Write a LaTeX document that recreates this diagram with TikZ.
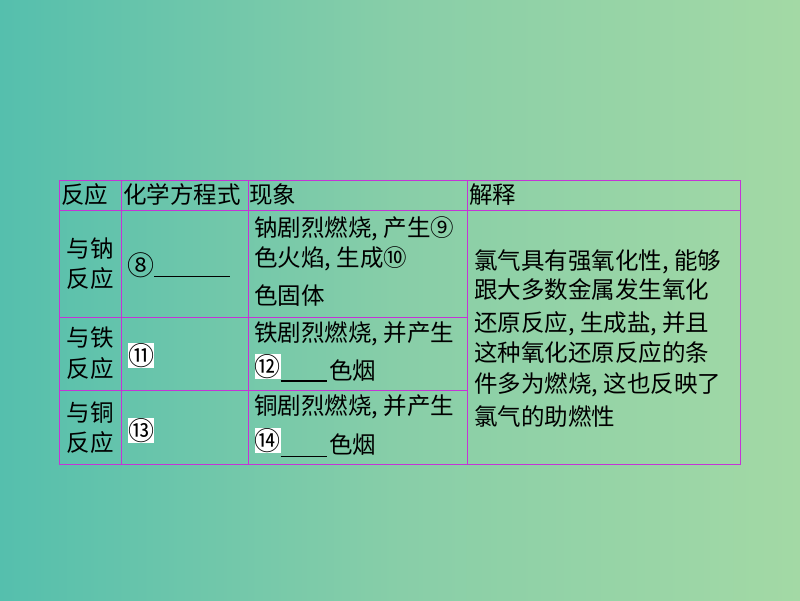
\documentclass[tikz,border=0pt]{standalone}
\usepackage{fontspec}
\setmainfont{Noto Sans CJK SC}
\usetikzlibrary{positioning}
\definecolor{bgleft}{RGB}{85,191,173}
\definecolor{bgmid}{RGB}{136,206,168}
\definecolor{bgright}{RGB}{163,217,165}
\definecolor{gridline}{RGB}{196,52,214}

\begin{document}
\begin{tikzpicture}[x=1pt, y=-1pt]
		\tikzstyle{txt}=[anchor=base west, inner sep=0pt, font=\fontsize{23.5}{23.5}\selectfont]
		\tikzstyle{mid}=[anchor=base, inner sep=0pt, font=\fontsize{23.5}{23.5}\selectfont]
		\tikzstyle{numbox}=[rectangle, fill=white, inner sep=0pt, minimum width=24pt, minimum height=25pt, font=\fontsize{26}{26}\selectfont]
		\tikzstyle{cell}=[draw=gridline, line width=0.9pt]
		\tikzstyle{blank}=[draw=black, line width=1pt]
		\shade[left color=bgleft, right color=bgright, middle color=bgmid] (0,0) rectangle (800,600);
		% table grid
		\draw[cell] (59,180) rectangle (740,464);
		\draw[cell] (59,210) -- (740,210);
		\draw[cell] (59,317) -- (467,317);
		\draw[cell] (59,390) -- (467,390);
		\draw[cell] (121,180) -- (121,464);
		\draw[cell] (248,180) -- (248,464);
		\draw[cell] (467,180) -- (467,464);
		% header
		\node[txt] (h1) at (61,203) {反应};
		\node[txt] (h2) at (123,203) {化学方程式};
		\node[txt] (h3) at (249,203) {现象};
		\node[txt] (h4) at (469,203) {解释};
		% sodium
		\node[mid] (na1) at (90,257) {与钠};
		\node[mid] (na2) at (90,287) {反应};
		\node[txt, font=\fontsize{27}{27}\selectfont] (c8) at (127,275) {⑧};
		\coordinate (b8) at (230,276);
		\draw[blank] (c8.east |- b8) -- (b8);
		\node[txt] (na3) at (254,236) {钠剧烈燃烧, 产生⑨};
		\node[txt] (na4) at (254,266) {色火焰, 生成⑩};
		\node[txt] (na5) at (254,304) {色固体};
		% iron
		\node[mid] (fe1) at (90,346) {与铁};
		\node[mid] (fe2) at (90,377) {反应};
		\node[numbox] (c11) at (141,355.5) {⑪};
		\node[txt] (fe3) at (254,341) {铁剧烈燃烧, 并产生};
		\node[numbox, minimum width=23pt, minimum height=23pt] (c12) at (267.5,366.5) {⑫};
		\coordinate (u12) at (327,381);
		\draw[blank, line width=1.8pt] (c12.east |- u12) -- (u12);
		\node[txt] (fe4) at (329,379) {色烟};
		% copper
		\node[mid] (cu1) at (90,421) {与铜};
		\node[mid] (cu2) at (90,451) {反应};
		\node[numbox] (c13) at (141,430.5) {⑬};
		\node[txt] (cu3) at (254,414) {铜剧烈燃烧, 并产生};
		\node[numbox, minimum width=23pt] (c14) at (267.5,440.5) {⑭};
		\coordinate (u14) at (327,456);
		\draw[blank] (c14.east |- u14) -- (u14);
		\node[txt] (cu4) at (329,453) {色烟};
		% explanation
		\node[txt] (ex1) at (474,269) {氯气具有强氧化性, 能够};
		\node[txt] (ex2) at (474,298) {跟大多数金属发生氧化};
		\node[txt] (ex3) at (474,331) {还原反应, 生成盐, 并且};
		\node[txt] (ex4) at (474,361) {这种氧化还原反应的条};
		\node[txt] (ex5) at (474,392) {件多为燃烧, 这也反映了};
		\node[txt] (ex6) at (474,425) {氯气的助燃性};
	\end{tikzpicture}
\end{document}
